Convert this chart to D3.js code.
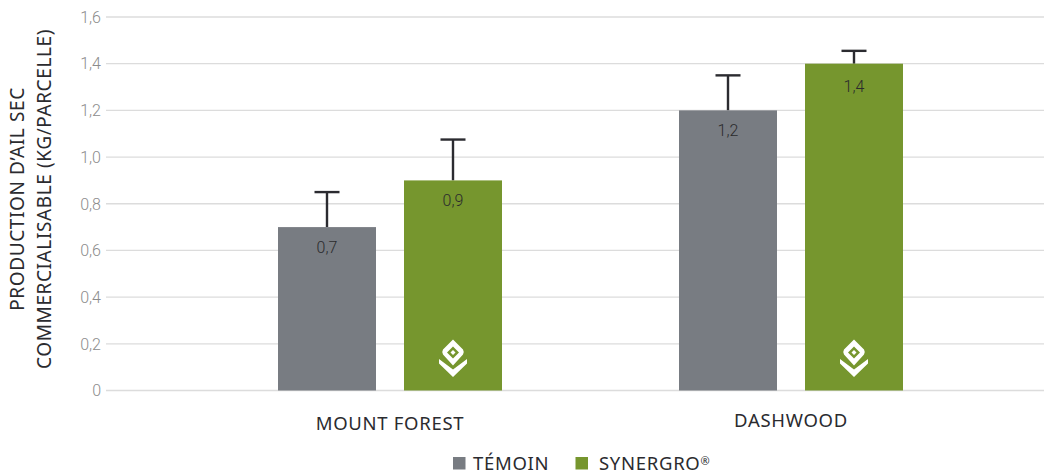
<!DOCTYPE html>
<html>
<head>
<meta charset="utf-8">
<script src="https://cdn.jsdelivr.net/npm/d3@7"></script>
<style>
  body { margin: 0; background: #fff; }
  text { font-family: "Noto Sans", sans-serif; }
  .yTick text { font-family: Roboto, sans-serif; font-weight: 300; font-size: 16px; fill: #8c8c8c; }
  .barLabel { font-family: Roboto, sans-serif; font-weight: 300; font-size: 16px; fill: #2b2b2d; text-anchor: middle; }
  .catLabel { font-size: 18.5px; fill: #2b2b2f; text-anchor: middle; letter-spacing: 0.7px; }
  .legendLabel { font-size: 18.5px; fill: #2b2b2f; letter-spacing: 0.7px; }
  .yTitle { font-size: 19px; fill: #2b2b2f; text-anchor: middle; letter-spacing: 0.6px; }
</style>
</head>
<body>
<div id="chart"></div>
<script>
// Data
var categories = ["MOUNT FOREST", "DASHWOOD"];
var seriesNames = ["TÉMOIN", "SYNERGRO"];
var temoinValues = [0.7, 1.2];
var synergroValues = [0.9, 1.4];
var temoinErrorTops = [0.85, 1.35];
var synergroErrorTops = [1.075, 1.455];
var yTicks = [0, 0.2, 0.4, 0.6, 0.8, 1.0, 1.2, 1.4, 1.6];
var yTitleLines = ["PRODUCTION D’AIL SEC", "COMMERCIALISABLE (KG/PARCELLE)"];

var colors = ["#787c82", "#76962e"];

var width = 1044;
var height = 474;

var svg = d3
  .select("#chart")
  .append("svg")
  .attr("width", width)
  .attr("height", height)
  .style("display", "block");

// Scales
var xGroup = d3.scaleBand().domain(categories).range([189.5, 991.5]);
var xBar = d3
  .scaleBand()
  .domain(seriesNames)
  .range([-112, 112])
  .paddingInner(28 / 126)
  .paddingOuter(0);
var yScale = d3.scaleLinear().domain([0, 1.6]).range([390.5, 17]);

function tickText(d) {
  return d === 0 ? "0" : d.toFixed(1).replace(".", ",");
}

// Grid + y labels
var yTick = svg
  .selectAll("g.yTick")
  .data(yTicks)
  .enter()
  .append("g")
  .attr("class", "yTick")
  .attr("transform", function(d) {
    return "translate(0," + yScale(d) + ")";
  });

yTick
  .append("line")
  .attr("x1", 106)
  .attr("x2", width)
  .attr("stroke", "#dcdcdc")
  .attr("stroke-width", 1.3);

yTick
  .append("text")
  .attr("x", 101)
  .attr("dy", "0.36em")
  .attr("text-anchor", "end")
  .text(tickText);

// Y title
svg
  .append("g")
  .attr("transform", "translate(24,199)rotate(-90)")
  .selectAll("text")
  .data(yTitleLines)
  .enter()
  .append("text")
  .attr("class", "yTitle")
  .attr("y", function(d, i) {
    return i * 27;
  })
  .text(function(d) {
    return d;
  });

// Bars
var rows = [];
categories.forEach(function(cat, i) {
  rows.push({ cat: cat, series: seriesNames[0], value: temoinValues[i], top: temoinErrorTops[i], color: colors[0] });
  rows.push({ cat: cat, series: seriesNames[1], value: synergroValues[i], top: synergroErrorTops[i], color: colors[1] });
});

function barCenter(d) {
  return xGroup(d.cat) + xGroup.bandwidth() / 2 + xBar(d.series) + xBar.bandwidth() / 2;
}

// Error bars go under the bars
var errors = svg.selectAll("g.err").data(rows).enter().append("g").attr("class", "err");
errors
  .append("line")
  .attr("x1", barCenter)
  .attr("x2", barCenter)
  .attr("y1", function(d) { return yScale(d.value); })
  .attr("y2", function(d) { return yScale(d.top); })
  .attr("stroke", "#2b2b30")
  .attr("stroke-width", 2.4);
errors
  .append("line")
  .attr("x1", function(d) { return barCenter(d) - 12.5; })
  .attr("x2", function(d) { return barCenter(d) + 12.5; })
  .attr("y1", function(d) { return yScale(d.top); })
  .attr("y2", function(d) { return yScale(d.top); })
  .attr("stroke", "#2b2b30")
  .attr("stroke-width", 2.4);

svg
  .selectAll("rect.bar")
  .data(rows)
  .enter()
  .append("rect")
  .attr("class", "bar")
  .attr("x", function(d) { return barCenter(d) - xBar.bandwidth() / 2; })
  .attr("width", xBar.bandwidth())
  .attr("y", function(d) { return yScale(d.value); })
  .attr("height", function(d) { return yScale(0) - yScale(d.value); })
  .attr("fill", function(d) { return d.color; });

// the 1,4 label sits a bit lower than the others
svg
  .selectAll("text.barLabel")
  .data(rows)
  .enter()
  .append("text")
  .attr("class", "barLabel")
  .attr("x", barCenter)
  .attr("y", function(d) { return yScale(d.value) + (d.value === 1.4 ? 28 : 26); })
  .text(function(d) { return tickText(d.value); });

// Logo on the green bars
var logos = svg
  .selectAll("g.logo")
  .data(rows.filter(function(d) { return d.series === seriesNames[1]; }))
  .enter()
  .append("g")
  .attr("class", "logo")
  .attr("transform", function(d) {
    return "translate(" + barCenter(d) + ",358)";
  })
  .attr("fill", "#fff");
logos
  .append("path")
  .attr("fill-rule", "evenodd")
  .attr("d", "M0,-18.5 L10,-8.5 Q11.5,-6 10,-3.5 L0,7.5 L-10,-3.5 Q-11.5,-6 -10,-8.5 Z M0,-11.5 L-6,-5.5 L0,0.5 L6,-5.5 Z");
logos
  .append("path")
  .attr("d", "M0,-8 L2.5,-5.5 L0,-3 L-2.5,-5.5 Z");
logos
  .append("path")
  .attr("d", "M-14,1 L0,11.5 L14,1 L14,5.5 L0,19 L-14,5.5 Z");

// Category labels
var catLabelY = [430, 427];
svg
  .selectAll("text.catLabel")
  .data(categories)
  .enter()
  .append("text")
  .attr("class", "catLabel")
  .attr("x", function(d) { return xGroup(d) + xGroup.bandwidth() / 2; })
  .attr("y", function(d, i) { return catLabelY[i]; })
  .text(function(d) { return d; });

// Legend
var legendX = [453, 575.5];
var legendTextX = [20, 23.5];
var legend = svg
  .selectAll("g.legendItem")
  .data(seriesNames)
  .enter()
  .append("g")
  .attr("class", "legendItem")
  .attr("transform", function(d, i) {
    return "translate(" + legendX[i] + ",0)";
  });
legend
  .append("rect")
  .attr("y", 457)
  .attr("width", 12.5)
  .attr("height", 12.5)
  .attr("fill", function(d, i) { return colors[i]; });
var legendText = legend
  .append("text")
  .attr("class", "legendLabel")
  .attr("x", function(d, i) { return legendTextX[i]; })
  .attr("y", 470)
  .text(function(d) { return d; });
legendText
  .filter(function(d, i) { return i === 1; })
  .append("tspan")
  .attr("dy", -5)
  .attr("font-size", 11)
  .text("®");
</script>
</body>
</html>
